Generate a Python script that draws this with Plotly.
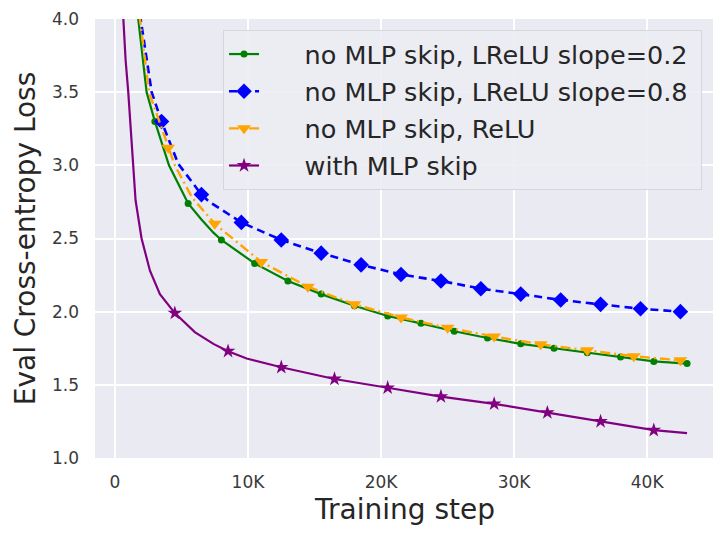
import plotly.graph_objects as go

# ---- data ----
green_steps = [1500, 1750, 2380, 3000, 4060, 5500, 6500, 7400, 8000, 10500, 13000, 15500, 18000,
               20500, 23000, 25500, 28000, 30500, 33000, 35500, 38000, 40500, 43000]
green_loss = [4.30, 4.00, 3.50, 3.30, 3.00, 2.74, 2.63, 2.54, 2.49, 2.33, 2.21, 2.12, 2.04,
              1.97, 1.92, 1.866, 1.82, 1.78, 1.75, 1.72, 1.69, 1.66, 1.645]
green_marks = [3000, 5500, 8000, 10500, 13000, 15500, 18000, 20500, 23000, 25500, 28000,
               30500, 33000, 35500, 38000, 40500, 43000]

blue_steps = [1700, 1930, 2760, 3500, 4760, 6500, 7100, 9500, 12500, 15500, 18500, 21500,
              24500, 27500, 30500, 33500, 36500, 39500, 42500]
blue_loss = [4.30, 4.00, 3.50, 3.30, 3.01, 2.80, 2.75, 2.61, 2.49, 2.40, 2.32, 2.254,
             2.21, 2.157, 2.12, 2.08, 2.05, 2.02, 2.00]
blue_marks = [3500, 6500, 9500, 12500, 15500, 18500, 21500, 24500, 27500, 30500, 33500,
              36500, 39500, 42500]

orange_steps = [1650, 1880, 2560, 4000, 4500, 5800, 7500, 11000, 14500, 18000, 21500, 25000,
                28500, 32000, 35500, 39000, 42500]
orange_loss = [4.30, 4.00, 3.50, 3.12, 3.00, 2.78, 2.60, 2.34, 2.17, 2.05, 1.96, 1.89,
               1.83, 1.777, 1.736, 1.695, 1.668]
orange_marks = [4000, 7500, 11000, 14500, 18000, 21500, 25000, 28500, 32000, 35500, 39000, 42500]

purple_steps = [450, 620, 800, 1000, 1350, 1550, 2000, 2630, 3380, 4500, 6000, 7400, 8500,
                9900, 12500, 16500, 20500, 24500, 28500, 32500, 36500, 40500, 43000]
purple_loss = [4.30, 4.00, 3.72, 3.50, 3.00, 2.76, 2.50, 2.28, 2.12, 1.99, 1.86, 1.78, 1.73,
               1.68, 1.62, 1.54, 1.48, 1.42, 1.37, 1.31, 1.25, 1.19, 1.17]
purple_marks = [4500, 8500, 12500, 16500, 20500, 24500, 28500, 32500, 36500, 40500]

labels = ["no MLP skip, LReLU slope=0.2", "no MLP skip, LReLU slope=0.8",
          "no MLP skip, ReLU", "with MLP skip"]
x_tick_vals = [0, 10000, 20000, 30000, 40000]
x_tick_text = ["0", "10K", "20K", "30K", "40K"]
y_tick_vals = [1.0, 1.5, 2.0, 2.5, 3.0, 3.5, 4.0]

series = [
    (green_steps, green_loss, green_marks, labels[0], "green", "solid", 2.2, "circle", 7),
    (blue_steps, blue_loss, blue_marks, labels[1], "blue", "8px,5px", 2.6, "diamond", 12),
    (orange_steps, orange_loss, orange_marks, labels[2], "orange", "10px,4px,2px,4px", 2.4,
     "triangle-down", 12),
    (purple_steps, purple_loss, purple_marks, labels[3], "purple", "solid", 2.2, "star", 11),
]

fig = go.Figure()
pad = "\u00a0" * 5
for i, (xs, ys, marks, name, color, dash, lw, sym, ms) in enumerate(series):
    mx = [x for x in xs if x in marks]
    my = [y for x, y in zip(xs, ys) if x in marks]
    fig.add_trace(go.Scatter(x=xs, y=ys, mode="lines", line=dict(color=color, width=lw, dash=dash),
                             showlegend=False, legendgroup=f"g{i}", hoverinfo="skip"))
    fig.add_trace(go.Scatter(x=mx, y=my, mode="markers",
                             marker=dict(color=color, symbol=sym, size=ms, line=dict(width=0)),
                             showlegend=False, legendgroup=f"g{i}", cliponaxis=True))
    fig.add_trace(go.Scatter(x=[None], y=[None], mode="lines+markers", name=pad + name + "\u00a0",
                             line=dict(color=color, width=lw, dash=dash),
                             marker=dict(color=color, symbol=sym, size=ms, line=dict(width=0)),
                             legendgroup=f"g{i}"))

fig.update_layout(
    width=713, height=526,
    margin=dict(l=87, r=6, t=11, b=76),
    paper_bgcolor="white", plot_bgcolor="#EAEAF2",
    font=dict(family="DejaVu Sans", color="#262626"),
    legend=dict(x=0.2065, y=0.975, xanchor="left", yanchor="top",
                bgcolor="rgba(236,236,243,0.9)", bordercolor="#d6d6dc", borderwidth=1,
                font=dict(size=25.5, color="#262626"), tracegroupgap=1,
                itemwidth=30),
)
fig.update_xaxes(range=[-1500, 45100], tickvals=x_tick_vals, ticktext=x_tick_text,
                 showgrid=True, gridcolor="white", gridwidth=1.5, zeroline=False, showline=False,
                 ticks="", ticklabelstandoff=12, tickfont=dict(size=17, color="#3a3a3a"),
                 automargin=False,
                 title=dict(text="Training step", font=dict(size=28, color="#262626"), standoff=8))
fig.update_yaxes(range=[1.0, 4.0], tickvals=y_tick_vals, tickformat=".1f",
                 showgrid=True, gridcolor="white", gridwidth=1.5, zeroline=False, showline=False,
                 ticks="", ticklabelstandoff=15, tickfont=dict(size=17, color="#3a3a3a"),
                 automargin=False,
                 title=dict(text="Eval Cross-entropy Loss", font=dict(size=28, color="#262626"), standoff=8))

fig.write_html("out.html")
